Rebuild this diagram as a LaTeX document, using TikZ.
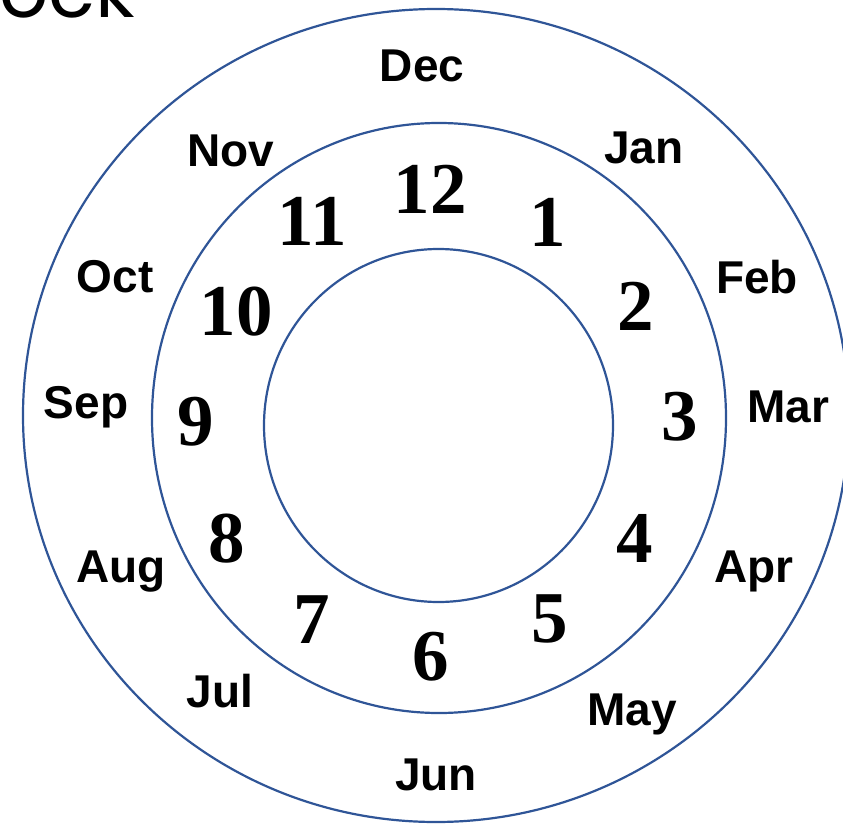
\documentclass[tikz,border=0pt]{standalone}
\usepackage{fontspec}
\usepackage{tikz}
\usetikzlibrary{positioning}
\newfontfamily\monthfont{Liberation Sans}
\newfontfamily\hourfont{Liberation Serif}
\newfontfamily\headfont{Poppins}
\definecolor{ringblue}{RGB}{47,85,151}

\begin{document}
\begin{tikzpicture}[
  x=1pt, y=-1pt,
  ring/.style={draw=ringblue, line width=2.2pt},
  month/.style={anchor=base, inner sep=0pt, font=\monthfont\bfseries\fontsize{46}{50}\selectfont},
  hour/.style={anchor=base, inner sep=0pt, font=\hourfont\bfseries\fontsize{73}{80}\selectfont},
  head/.style={anchor=base east, inner sep=0pt, font=\headfont\fontsize{77}{84}\selectfont},
]
\useasboundingbox (0,0) rectangle (843,824);
\clip (0,0) rectangle (843,824);
% ---- rings ----
\draw[ring] (436,415.5) ellipse [x radius=413pt, y radius=406.5pt];
\draw[ring] (439,418) ellipse [x radius=287pt, y radius=295pt];
\draw[ring] (438.5,425.5) ellipse [x radius=174.5pt, y radius=176.5pt];
% ---- cut-off heading ----
\node[head] (title) at (135,18) {ock};
% ---- months ----
\node[month] (dec) at (422,82) {Dec};
\node[month] (jan) at (644,163) {Jan};
\node[month] (feb) at (757,293) {Feb};
\node[month] (mar) at (788,422) {Mar};
\node[month] (apr) at (754,582) {Apr};
\node[month] (may) at (632,725) {May};
\node[month] (jun) at (436,790) {Jun};
\node[month] (jul) at (220,707) {Jul};
\node[month] (aug) at (121,582) {Aug};
\node[month] (sep) at (86,418) {Sep};
\node[month] (oct) at (115,292) {Oct};
\node[month] (nov) at (231,166) {Nov};
% ---- hours ----
\node[hour] (h12) at (430,213) {12};
\node[hour] (h1) at (548,246) {1};
\node[hour] (h2) at (636,330) {2};
\node[hour] (h3) at (680,440) {3};
\node[hour] (h4) at (635,562) {4};
\node[hour] (h5) at (550,642) {5};
\node[hour] (h6) at (431,680) {6};
\node[hour] (h7) at (312,643) {7};
\node[hour] (h8) at (227,562) {8};
\node[hour] (h9) at (196,445) {9};
\node[hour] (h10) at (236,335) {10};
\node[hour] (h11) at (312,245) {11};
\end{tikzpicture}
\end{document}
